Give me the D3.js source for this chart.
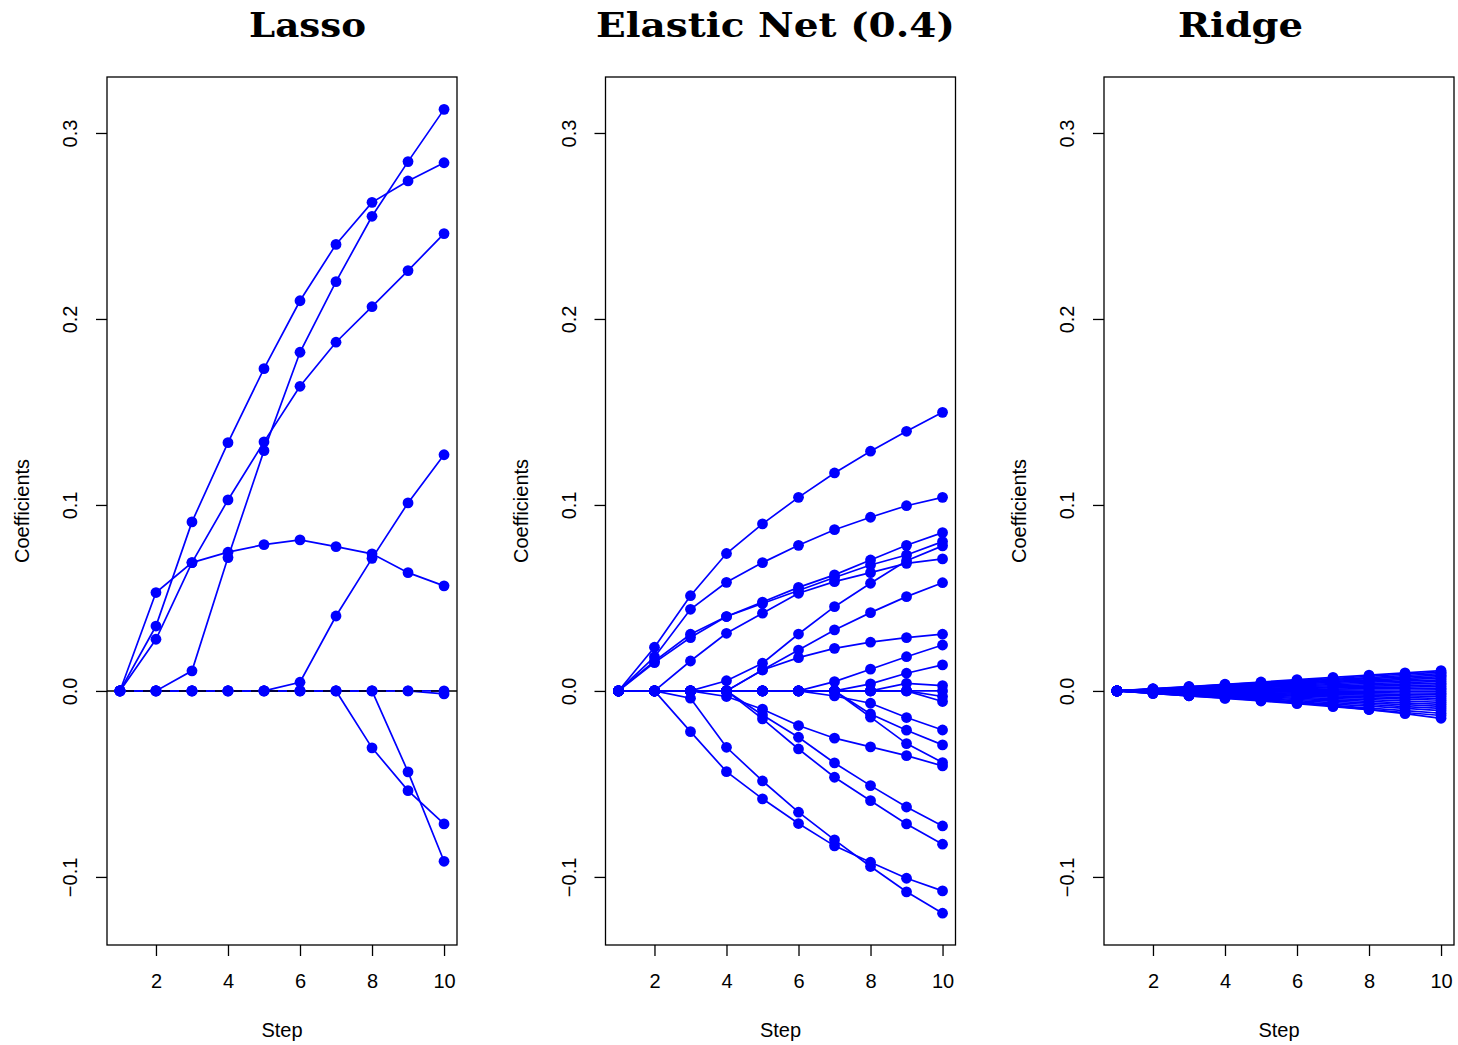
<!DOCTYPE html>
<html>
<head>
<meta charset="utf-8">
<script src="https://cdn.jsdelivr.net/npm/d3@7"></script>
<style>
  body { margin: 0; background: #fff; }
  svg text { font-family: "Liberation Sans", Arial, sans-serif; }
</style>
</head>
<body>
<svg id="chart" width="1458" height="1045"></svg>
<script>
// steps on the x axis
var steps = [1, 2, 3, 4, 5, 6, 7, 8, 9, 10];
var xTicks = [2, 4, 6, 8, 10];
var yTicks = [-0.1, 0.0, 0.1, 0.2, 0.3];
var titles = ["Lasso", "Elastic Net (0.4)", "Ridge"];

// coefficient paths, one array per variable
var lassoPaths = [
  [0, 0.0349, 0.0909, 0.1335, 0.1733, 0.2098, 0.2401, 0.2627, 0.2742, 0.2840],
  [0, 0, 0.0108, 0.0717, 0.1292, 0.1821, 0.2201, 0.2552, 0.2846, 0.3127],
  [0, 0.0278, 0.0690, 0.1027, 0.1339, 0.1638, 0.1875, 0.2066, 0.2260, 0.2459],
  [0, 0.0529, 0.0690, 0.0746, 0.0787, 0.0812, 0.0776, 0.0737, 0.0636, 0.0565],
  [0, 0, 0, 0, 0, 0.0047, 0.0403, 0.0713, 0.1011, 0.1270],
  [0, 0, 0, 0, 0, 0, 0, -0.0306, -0.0536, -0.0715],
  [0, 0, 0, 0, 0, 0, 0, 0, -0.0435, -0.0916],
  [0, 0, 0, 0, 0, 0, 0, 0, 0, -0.0016],
  [0, 0, 0, 0, 0, 0, 0, 0, 0, 0]
];

var elasticPaths = [
  [0, 0.0235, 0.0512, 0.0739, 0.0898, 0.1041, 0.1172, 0.1289, 0.1396, 0.1498],
  [0, 0.0183, 0.0439, 0.0584, 0.0690, 0.0783, 0.0867, 0.0934, 0.0996, 0.1041],
  [0, 0.0160, 0.0305, 0.0400, 0.0478, 0.0557, 0.0624, 0.0704, 0.0783, 0.0851],
  [0, 0.0152, 0.0287, 0.0400, 0.0470, 0.0540, 0.0610, 0.0677, 0.0731, 0.0803],
  [0, 0, 0.0161, 0.0310, 0.0418, 0.0525, 0.0588, 0.0636, 0.0686, 0.0710],
  [0, 0, 0, 0.0055, 0.0149, 0.0306, 0.0453, 0.0579, 0.0700, 0.0780],
  [0, 0, 0, 0, 0.0113, 0.0220, 0.0328, 0.0421, 0.0507, 0.0582],
  [0, 0, 0, 0, 0.0113, 0.0179, 0.0229, 0.0262, 0.0287, 0.0305],
  [0, 0, 0, 0, 0, 0, 0.0050, 0.0117, 0.0184, 0.0247],
  [0, 0, 0, 0, 0, 0, 0, 0.0038, 0.0095, 0.0140],
  [0, 0, 0, 0, 0, 0, 0, 0, 0.0041, 0.0029],
  [0, 0, -0.0219, -0.0434, -0.0580, -0.0713, -0.0833, -0.0921, -0.1007, -0.1075],
  [0, 0, -0.0039, -0.0303, -0.0484, -0.0652, -0.0801, -0.0944, -0.1080, -0.1195],
  [0, 0, 0, -0.0030, -0.0098, -0.0186, -0.0254, -0.0301, -0.0348, -0.0403],
  [0, 0, 0, 0, -0.0129, -0.0249, -0.0387, -0.0509, -0.0624, -0.0726],
  [0, 0, 0, 0, -0.0150, -0.0312, -0.0464, -0.0590, -0.0715, -0.0824],
  [0, 0, 0, 0, 0, 0, -0.0027, -0.0066, -0.0143, -0.0210],
  [0, 0, 0, 0, 0, 0, 0, -0.0124, -0.0211, -0.0290],
  [0, 0, 0, 0, 0, 0, 0, -0.0141, -0.0283, -0.0385],
  [0, 0, 0, 0, 0, 0, 0, 0, 0, -0.0057],
  [0, 0, 0, 0, 0, 0, 0, 0, 0, -0.0030],
  [0, 0, 0, 0, 0, 0, 0, 0, 0, 0]
];

var ridgePaths = [
  [0, 0.0012, 0.0024, 0.0036, 0.0048, 0.0061, 0.0073, 0.0085, 0.0097, 0.0109],
  [0, 0.0011, 0.0022, 0.0034, 0.0045, 0.0056, 0.0067, 0.0079, 0.0090, 0.0101],
  [0, 0.0010, 0.0021, 0.0031, 0.0041, 0.0052, 0.0062, 0.0072, 0.0083, 0.0093],
  [0, 0.0009, 0.0019, 0.0028, 0.0038, 0.0047, 0.0057, 0.0066, 0.0076, 0.0085],
  [0, 0.0009, 0.0017, 0.0026, 0.0034, 0.0043, 0.0051, 0.0060, 0.0068, 0.0077],
  [0, 0.0008, 0.0015, 0.0023, 0.0031, 0.0038, 0.0046, 0.0054, 0.0061, 0.0069],
  [0, 0.0007, 0.0013, 0.0020, 0.0027, 0.0033, 0.0040, 0.0047, 0.0053, 0.0060],
  [0, 0.0006, 0.0011, 0.0017, 0.0023, 0.0028, 0.0034, 0.0040, 0.0045, 0.0051],
  [0, 0.0005, 0.0009, 0.0014, 0.0019, 0.0023, 0.0028, 0.0033, 0.0037, 0.0042],
  [0, 0.0004, 0.0007, 0.0011, 0.0015, 0.0018, 0.0022, 0.0026, 0.0029, 0.0033],
  [0, 0.0003, 0.0005, 0.0008, 0.0011, 0.0013, 0.0016, 0.0019, 0.0021, 0.0024],
  [0, 0.0002, 0.0003, 0.0005, 0.0007, 0.0008, 0.0010, 0.0012, 0.0013, 0.0015],
  [0, 0.0001, 0.0001, 0.0002, 0.0003, 0.0003, 0.0004, 0.0005, 0.0005, 0.0006],
  [0, 0.0000, -0.0001, -0.0001, -0.0001, -0.0002, -0.0002, -0.0002, -0.0003, -0.0003],
  [0, -0.0001, -0.0003, -0.0004, -0.0005, -0.0007, -0.0008, -0.0009, -0.0011, -0.0012],
  [0, -0.0002, -0.0005, -0.0007, -0.0009, -0.0012, -0.0014, -0.0016, -0.0019, -0.0021],
  [0, -0.0003, -0.0007, -0.0010, -0.0013, -0.0017, -0.0020, -0.0023, -0.0027, -0.0030],
  [0, -0.0004, -0.0009, -0.0013, -0.0018, -0.0022, -0.0027, -0.0031, -0.0036, -0.0040],
  [0, -0.0006, -0.0011, -0.0017, -0.0022, -0.0028, -0.0033, -0.0039, -0.0044, -0.0050],
  [0, -0.0007, -0.0014, -0.0020, -0.0027, -0.0034, -0.0041, -0.0047, -0.0054, -0.0061],
  [0, -0.0008, -0.0016, -0.0024, -0.0032, -0.0040, -0.0048, -0.0056, -0.0064, -0.0072],
  [0, -0.0009, -0.0018, -0.0028, -0.0037, -0.0046, -0.0055, -0.0065, -0.0074, -0.0083],
  [0, -0.0010, -0.0021, -0.0031, -0.0042, -0.0052, -0.0063, -0.0073, -0.0084, -0.0094],
  [0, -0.0012, -0.0024, -0.0035, -0.0047, -0.0059, -0.0071, -0.0082, -0.0094, -0.0106],
  [0, -0.0013, -0.0026, -0.0038, -0.0051, -0.0064, -0.0078, -0.0092, -0.0106, -0.0120],
  [0, -0.0013, -0.0026, -0.0040, -0.0054, -0.0068, -0.0084, -0.0100, -0.0116, -0.0132],
  [0, -0.0012, -0.0024, -0.0034, -0.0048, -0.0063, -0.0080, -0.0100, -0.0122, -0.0147]
];

var svg = d3.select("#chart");

var plotTop = 77, plotBottom = 945, boxW = 350;
var panelLeft = [107, 605.5, 1104];
var titleX = [307.5, 775.5, 1240.5];
var titleLen = [117, 359, 125];

var y = d3.scaleLinear()
    .domain([-0.1366, 0.3301])
    .range([plotBottom, plotTop]);

function drawPanel(i, paths, zeroLine) {
  var left = panelLeft[i];
  var x = d3.scaleLinear()
      .domain([0.64, 10.36])
      .range([left, left + boxW]);

  var g = svg.append("g");

  var line = d3.line()
      .x(function(d, k) { return x(steps[k]); })
      .y(function(d) { return y(d); });

  g.selectAll(".path")
      .data(paths)
    .enter().append("path")
      .attr("d", line)
      .attr("fill", "none")
      .attr("stroke", "#0000ff")
      .attr("stroke-width", 1.7);

  if (zeroLine) {
    g.append("line")
        .attr("x1", left).attr("x2", left + boxW)
        .attr("y1", y(0)).attr("y2", y(0))
        .attr("stroke", "#000")
        .attr("stroke-width", 1.6)
        .attr("stroke-dasharray", "9,9");
  }

  paths.forEach(function(p) {
    g.selectAll(null)
        .data(p)
      .enter().append("circle")
        .attr("cx", function(d, k) { return x(steps[k]); })
        .attr("cy", function(d) { return y(d); })
        .attr("r", 5.4)
        .attr("fill", "#0000ff");
  });

  // box
  g.append("rect")
      .attr("x", left).attr("y", plotTop)
      .attr("width", boxW).attr("height", plotBottom - plotTop)
      .attr("fill", "none")
      .attr("stroke", "#000")
      .attr("stroke-width", 1.3);

  // x axis
  var xa = g.append("g")
      .attr("transform", "translate(0," + plotBottom + ")")
      .call(d3.axisBottom(x).tickValues(xTicks).tickSize(11).tickFormat(d3.format("d")));
  xa.select(".domain").remove();
  xa.selectAll("line").attr("stroke", "#000").attr("stroke-width", 1.3);
  xa.selectAll("text")
      .attr("y", 29)
      .attr("font-size", 20)
      .attr("fill", "#000")
      .style("font-family", "Liberation Sans, Arial, sans-serif");

  // y axis
  var ya = g.append("g")
      .attr("transform", "translate(" + left + ",0)")
      .call(d3.axisLeft(y).tickValues(yTicks).tickSize(11).tickFormat(d3.format(".1f")));
  ya.select(".domain").remove();
  ya.selectAll("line").attr("stroke", "#000").attr("stroke-width", 1.3);
  ya.selectAll("text")
      .attr("x", null)
      .attr("dy", null)
      .attr("text-anchor", "middle")
      .attr("transform", "translate(-30,0) rotate(-90)")
      .attr("font-size", 20)
      .attr("fill", "#000")
      .style("font-family", "Liberation Sans, Arial, sans-serif");

  // axis titles
  g.append("text")
      .attr("x", left + boxW / 2)
      .attr("y", 1037)
      .attr("text-anchor", "middle")
      .attr("font-size", 20)
      .text("Step");

  g.append("text")
      .attr("transform", "translate(" + (left - 78) + "," + ((plotTop + plotBottom) / 2) + ") rotate(-90)")
      .attr("text-anchor", "middle")
      .attr("font-size", 20)
      .text("Coefficients");

  g.append("text")
      .attr("x", titleX[i])
      .attr("y", 37)
      .attr("text-anchor", "middle")
      .attr("font-size", 34)
      .attr("font-weight", "bold")
      .attr("textLength", titleLen[i])
      .attr("lengthAdjust", "spacingAndGlyphs")
      .style("font-family", "DejaVu Serif, serif")
      .text(titles[i]);
}

drawPanel(0, lassoPaths, true);
drawPanel(1, elasticPaths, false);
drawPanel(2, ridgePaths, false);
</script>
</body>
</html>
